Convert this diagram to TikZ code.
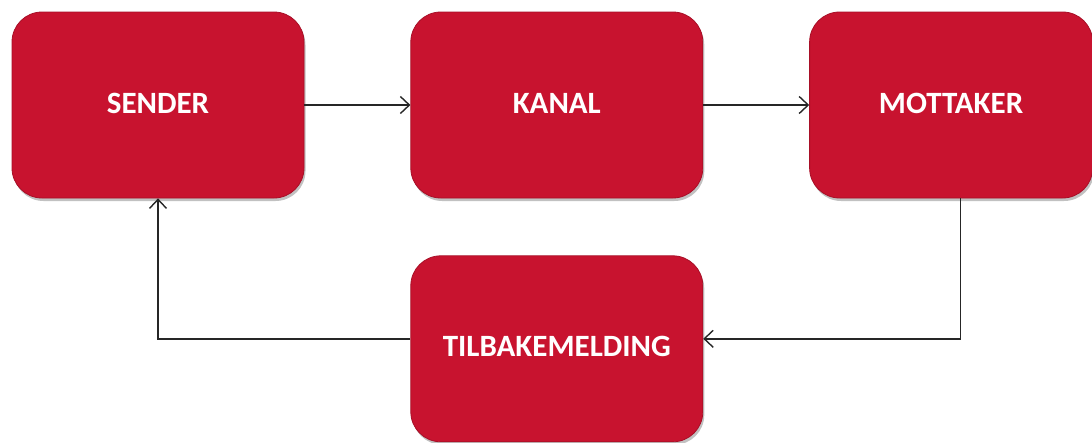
\documentclass[tikz,border=0pt]{standalone}
\usepackage{fontspec}
\setmainfont{Carlito}
\usetikzlibrary{arrows.meta,positioning,shadows}
\definecolor{boxred}{HTML}{C8132F}
\definecolor{edgered}{HTML}{A80F27}
\newcommand{\boxtext}[1]{\raisebox{4pt}{#1}}

\begin{document}
\begin{tikzpicture}[
  x=1pt,y=1pt,
  node distance=57pt and 106pt,
  box/.style={draw=edgered,line width=0.8pt,rounded corners=30pt,fill=boxred,align=center,minimum width=292pt,minimum height=186pt,text=white,font=\fontsize{31}{36}\selectfont\bfseries,inner sep=0pt,drop shadow={shadow xshift=1.5pt,shadow yshift=-3pt,opacity=0.35,fill=black!70}},
  arrow/.style={-{Straight Barb[length=9pt,width=17pt]},line width=1.4pt,draw=black!85}
]
\useasboundingbox (0,0) rectangle (1092,-442);
\node[box] (sender) at (158,-105) {\boxtext{SENDER}};
\node[box,right=of sender] (kanal) {\boxtext{KANAL}};
\node[box,right=of kanal,minimum width=283pt] (mottaker) {\boxtext{MOTTAKER}};
\node[box,below=of kanal] (tilbake) {\boxtext{TILBAKEMELDING}};
\draw[arrow] (sender) -- (kanal);
\draw[arrow] (kanal) -- (mottaker);
\draw[arrow] ([xshift=9.5pt]mottaker.south) |- ([yshift=10pt]tilbake.east);
\draw[arrow] ([yshift=10pt]tilbake.west) -| (sender.south);
\end{tikzpicture}
\end{document}
